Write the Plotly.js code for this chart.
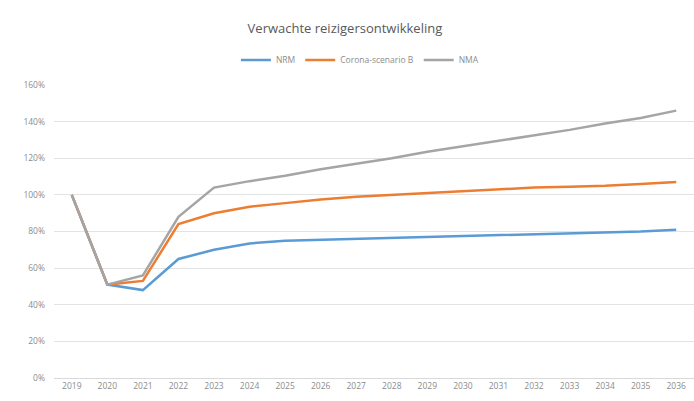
<!DOCTYPE html>
<html><head><meta charset="utf-8">
<script src="https://cdn.plot.ly/plotly-3.0.1.min.js"></script>
<style>html,body{margin:0;padding:0;background:#fff}#c{width:694px;height:401px}</style>
</head><body><div id="c"></div>
<script>
const years = ["2019","2020","2021","2022","2023","2024","2025","2026","2027","2028","2029","2030","2031","2032","2033","2034","2035","2036"];
const nrm = [1.00,0.51,0.48,0.65,0.70,0.735,0.75,0.755,0.76,0.765,0.77,0.775,0.78,0.785,0.79,0.795,0.80,0.81];
const coronaB = [1.00,0.51,0.53,0.84,0.90,0.935,0.955,0.975,0.99,1.00,1.01,1.02,1.03,1.04,1.045,1.05,1.06,1.07];
const nma = [1.00,0.51,0.56,0.88,1.04,1.075,1.105,1.14,1.17,1.20,1.235,1.265,1.295,1.325,1.355,1.39,1.42,1.46];
const yTicks = [0,0.2,0.4,0.6,0.8,1.0,1.2,1.4,1.6];
const yTickText = ["0%","20%","40%","60%","80%","100%","120%","140%","160%"];
const names = ["NRM","Corona-scenario B","NMA"];
const colors = ["#5b9bd5","#ed7d31","#a5a5a5"];
const series = [nrm, coronaB, nma];
const traces = series.map((s,i)=>({x:years,y:s,name:names[i],type:"scatter",mode:"lines",
  line:{color:colors[i],width:2.5}}));
Plotly.newPlot("c", traces, {
  width:694,height:401,
  paper_bgcolor:"#fff",plot_bgcolor:"#fff",
  margin:{l:54,r:0,t:85,b:23},
  font:{family:"'Open Sans', sans-serif",color:"#8c8c8c",size:8},
  title:{text:"Verwachte reizigersontwikkeling",x:0.497,xanchor:"center",y:0.928,yanchor:"middle",font:{size:13,color:"#595959"}},
  showlegend:true,
  legend:{orientation:"h",x:0.478,xanchor:"center",y:1.085,yanchor:"middle",font:{size:8.5,color:"#8c8c8c"},itemwidth:30,tracegroupgap:0},
  xaxis:{type:"category",range:[-0.5,17.5],showgrid:false,zeroline:false,showline:true,linecolor:"#d9d9d9",ticks:"",tickfont:{size:8.5,color:"#8c8c8c"},fixedrange:true},
  yaxis:{range:[0,1.6],tickvals:yTicks,ticktext:yTickText,showgrid:true,gridcolor:"#e3e3e3",zeroline:false,ticks:"",ticklabelstandoff:8,tickfont:{size:8.5,color:"#8c8c8c"},fixedrange:true}
},{displayModeBar:false,staticPlot:true});
</script></body></html>
